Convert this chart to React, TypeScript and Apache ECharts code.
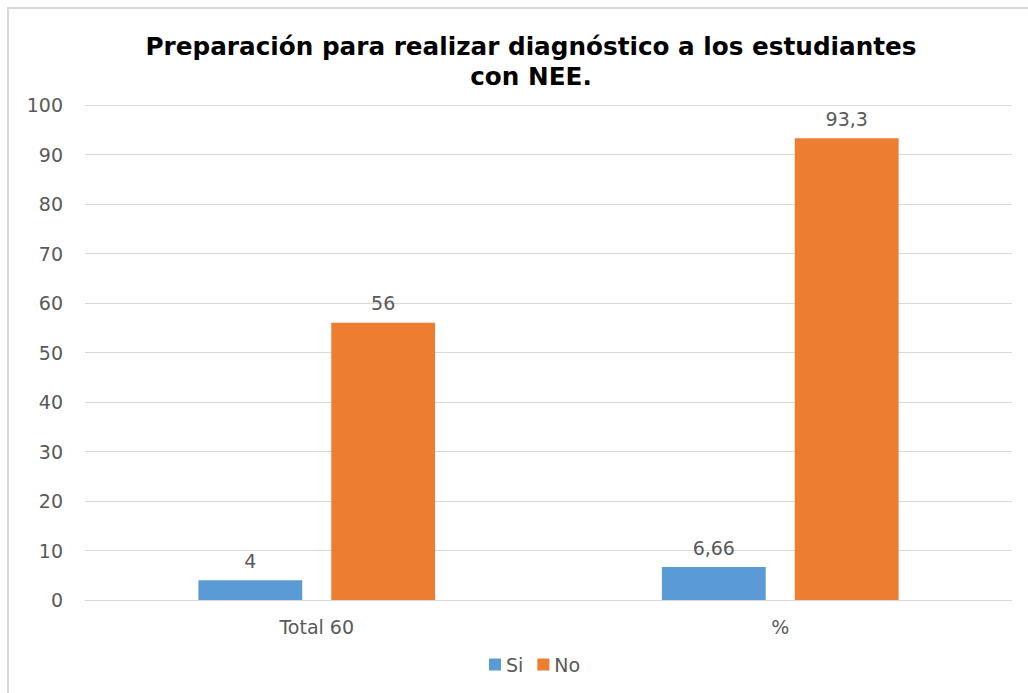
import React, { useEffect, useRef } from "react";
import * as echarts from "echarts";

const categories = ["Total 60", "%"];
const siValues = [4, 6.66];
const noValues = [56, 93.3];
const siLabels = ["4", "6,66"];
const noLabels = ["56", "93,3"];
const titleText = "Preparación para realizar diagnóstico a los estudiantes\ncon NEE.";

export default function App() {
  const ref = useRef<HTMLDivElement>(null);
  useEffect(() => {
    if (!ref.current) return;
    const chart = echarts.init(ref.current, undefined, { renderer: "svg" });
    const font = "'DejaVu Sans', Verdana, sans-serif";
    chart.setOption({
      animation: false,
      backgroundColor: "#ffffff",
      textStyle: { fontFamily: font },
      title: {
        text: titleText,
        left: 526,
        textAlign: "center",
        top: 26,
        textStyle: { fontSize: 24.7, fontWeight: "bold", color: "#000000", lineHeight: 30, fontFamily: font },
      },
      graphic: [
        {
          type: "rect",
          shape: { x: 8, y: 8, width: 1040, height: 720 },
          style: { fill: "none", stroke: "#d9d9d9", lineWidth: 2 },
          silent: true,
        },
      ],
      legend: {
        bottom: 14,
        left: 484,
        itemWidth: 12,
        itemHeight: 12,
        itemGap: 14,
        icon: "rect",
        textStyle: { fontSize: 19, color: "#595959", fontFamily: font },
        data: ["Si", "No"],
      },
      grid: { left: 85, right: 16, top: 105, bottom: 93 },
      xAxis: {
        type: "category",
        data: categories,
        axisLine: { lineStyle: { color: "#d9d9d9" } },
        axisTick: { show: false },
        axisLabel: { fontSize: 19, color: "#595959", margin: 17, fontFamily: font },
      },
      yAxis: {
        type: "value",
        min: 0,
        max: 100,
        interval: 10,
        axisLine: { show: false },
        axisTick: { show: false },
        splitLine: { lineStyle: { color: "#d9d9d9" } },
        axisLabel: { fontSize: 19, color: "#595959", margin: 22, fontFamily: font },
      },
      series: [
        {
          name: "Si",
          type: "bar",
          data: siValues,
          barWidth: "22.4%",
          barGap: "28%",
          barCategoryGap: "49%",
          itemStyle: { color: "#5b9bd5" },
          label: {
            show: true,
            position: "top",
            distance: 10,
            fontSize: 19,
            color: "#595959",
            formatter: (p: any) => siLabels[p.dataIndex],
          },
        },
        {
          name: "No",
          type: "bar",
          data: noValues,
          barWidth: "22.4%",
          barGap: "28%",
          itemStyle: { color: "#ed7d31" },
          label: {
            show: true,
            position: "top",
            distance: 10,
            fontSize: 19,
            color: "#595959",
            formatter: (p: any) => noLabels[p.dataIndex],
          },
        },
      ],
    });
    return () => chart.dispose();
  }, []);
  return (
    <div
      ref={ref}
      style={{ position: "fixed", left: 0, top: 0, width: 1028, height: 693 }}
    />
  );
}
